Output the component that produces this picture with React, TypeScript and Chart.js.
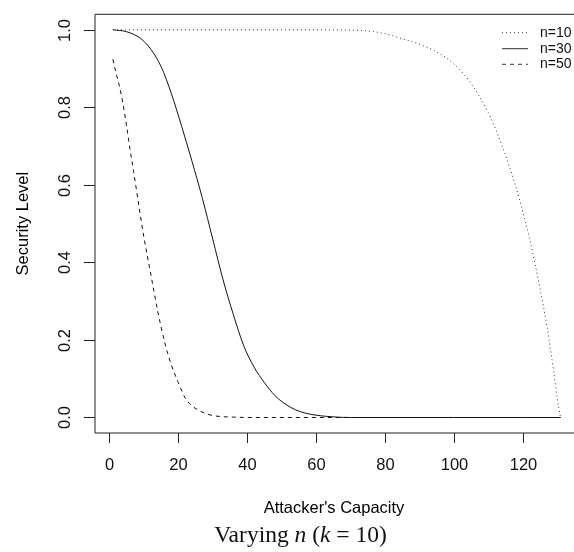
import React, { useEffect, useRef } from "react";
import { Chart, registerables } from "chart.js";

Chart.register(...registerables);

// ---- data ----
const seriesLabels = ["n=10", "n=30", "n=50"];

const capacityN10 = [1, 10, 20, 30, 40, 50, 60, 70, 75, 80, 85, 90, 95, 100, 105, 110, 113, 116, 119, 122, 125, 127, 129, 130, 131];
const levelN10 = [1, 1, 1, 1, 1, 1, 1, 0.999, 0.997, 0.99, 0.977, 0.963, 0.943, 0.912, 0.862, 0.787, 0.725, 0.652, 0.565, 0.462, 0.335, 0.238, 0.12, 0.052, 0];

const capacityN30 = [1, 5, 9, 12, 15, 18, 21, 24, 27, 30, 33, 36, 39, 42, 45, 48, 51, 54, 57, 60, 63, 66, 70, 80, 100, 120, 131];
const levelN30 = [1, 0.995, 0.978, 0.95, 0.905, 0.835, 0.75, 0.66, 0.565, 0.46, 0.355, 0.265, 0.185, 0.13, 0.09, 0.057, 0.035, 0.02, 0.011, 0.006, 0.003, 0.001, 0, 0, 0, 0, 0];

const capacityN50 = [1, 2, 3, 4, 5, 6, 7, 8, 9, 10, 12, 14, 16, 18, 20, 22, 24, 26, 28, 30, 33, 36, 40, 60, 80, 100, 120, 131];
const levelN50 = [0.924, 0.885, 0.85, 0.805, 0.75, 0.69, 0.635, 0.578, 0.52, 0.465, 0.37, 0.275, 0.195, 0.135, 0.09, 0.05, 0.03, 0.018, 0.01, 0.005, 0.002, 0.001, 0, 0, 0, 0, 0, 0];

const xTicks = [0, 20, 40, 60, 80, 100, 120];
const yTicks = [0, 0.2, 0.4, 0.6, 0.8, 1.0];
const yTickLabels = ["0.0", "0.2", "0.4", "0.6", "0.8", "1.0"];

const xTitle = "Attacker's Capacity";
const yTitle = "Security Level";

const SANS = '"Liberation Sans", Arial, Helvetica, sans-serif';
const SERIF = '"Liberation Serif", "Times New Roman", serif';

const dashes = [[1, 3], [], [4, 4]];

function toPoints(xs: number[], ys: number[]) {
  return xs.map((x, i) => ({ x, y: ys[i] }));
}

const rStylePlugin = {
  id: "rStyle",
  afterDraw(chart: any) {
    const { ctx, chartArea: a, scales } = chart;
    const xs = scales.x;
    const ys = scales.y;
    const left = a.left;
    const right = chart.width + 10; // the plot frame's right side lies outside the picture
    const top = a.top;
    const bottom = a.bottom;
    ctx.save();
    ctx.setLineDash([]);
    ctx.strokeStyle = "#222";
    ctx.lineWidth = 1;
    // box (left, top, bottom sides)
    ctx.beginPath();
    ctx.moveTo(right, top);
    ctx.lineTo(left, top);
    ctx.lineTo(left, bottom);
    ctx.lineTo(right, bottom);
    ctx.stroke();

    ctx.fillStyle = "#111";
    ctx.font = `16.5px ${SANS}`;
    ctx.textAlign = "center";
    ctx.textBaseline = "middle";

    // x axis ticks
    xTicks.forEach((v) => {
      const px = Math.round(xs.getPixelForValue(v)) + 0.5;
      ctx.beginPath();
      ctx.moveTo(px, bottom);
      ctx.lineTo(px, bottom + 10);
      ctx.stroke();
      ctx.fillText(String(v), px, bottom + 32);
    });

    // y axis ticks
    yTicks.forEach((v, i) => {
      const py = Math.round(ys.getPixelForValue(v)) + 0.5;
      ctx.beginPath();
      ctx.moveTo(left, py);
      ctx.lineTo(left - 11, py);
      ctx.stroke();
      ctx.save();
      ctx.translate(left - 30, py);
      ctx.rotate(-Math.PI / 2);
      ctx.fillText(yTickLabels[i], 0, 0);
      ctx.restore();
    });

    // axis titles
    ctx.fillStyle = "#000";
    ctx.fillText(xTitle, 334, 508);
    ctx.save();
    ctx.translate(23, (a.top + a.bottom) / 2);
    ctx.rotate(-Math.PI / 2);
    ctx.fillText(yTitle, 0, 0);
    ctx.restore();

    // legend
    const rowY = [32.7, 48.7, 64.3];
    ctx.font = `14px ${SANS}`;
    ctx.textAlign = "left";
    chart.data.datasets.forEach((ds: any, i: number) => {
      const y = rowY[i];
      ctx.save();
      ctx.strokeStyle = "#333";
      ctx.lineWidth = 1;
      ctx.setLineDash(ds.borderDash || []);
      ctx.beginPath();
      ctx.moveTo(502, y);
      ctx.lineTo(528, y);
      ctx.stroke();
      ctx.restore();
      ctx.fillStyle = "#111";
      ctx.fillText(ds.label, 540, y);
    });

    // caption: Varying n (k = 10)
    const parts: [string, boolean][] = [
      ["Varying ", false],
      ["n", true],
      [" (", false],
      ["k", true],
      [" = 10)", false],
    ];
    const fs = 23.5;
    let total = 0;
    const widths = parts.map(([t, it]) => {
      ctx.font = `${it ? "italic " : ""}${fs}px ${SERIF}`;
      const w = ctx.measureText(t).width;
      total += w;
      return w;
    });
    let cx = 300.5 - total / 2;
    ctx.textBaseline = "alphabetic";
    ctx.fillStyle = "#111";
    parts.forEach(([t, it], i) => {
      ctx.font = `${it ? "italic " : ""}${fs}px ${SERIF}`;
      ctx.fillText(t, cx, 541.5);
      cx += widths[i];
    });

    ctx.restore();
  },
};

export default function App() {
  const ref = useRef<HTMLCanvasElement | null>(null);

  useEffect(() => {
    if (!ref.current) return;
    const series = [
      toPoints(capacityN10, levelN10),
      toPoints(capacityN30, levelN30),
      toPoints(capacityN50, levelN50),
    ];
    const chart = new Chart(ref.current, {
      type: "line",
      data: {
        datasets: series.map((pts, i) => ({
          label: seriesLabels[i],
          data: pts,
          borderColor: i === 0 ? "#333" : "#111",
          borderWidth: 1,
          borderDash: dashes[i],
          pointRadius: 0,
          fill: false,
          cubicInterpolationMode: "monotone" as const,
        })),
      },
      options: {
        responsive: false,
        animation: false,
        layout: { padding: { left: 95, top: 14.3, right: 0, bottom: 119 } },
        scales: {
          x: { type: "linear", min: -4.2, max: 134.92, display: false },
          y: { type: "linear", min: -0.04, max: 1.04, display: false },
        },
        plugins: {
          legend: { display: false },
          tooltip: { enabled: false },
        },
        elements: { point: { radius: 0 } },
      },
      plugins: [rStylePlugin],
    });
    return () => chart.destroy();
  }, []);

  return (
    <div
      style={{
        position: "fixed",
        left: 0,
        top: 0,
        width: 574,
        height: 552,
        overflow: "hidden",
        background: "#fff",
      }}
    >
      <canvas ref={ref} width={574} height={552} style={{ display: "block", width: 574, height: 552 }} />
    </div>
  );
}
